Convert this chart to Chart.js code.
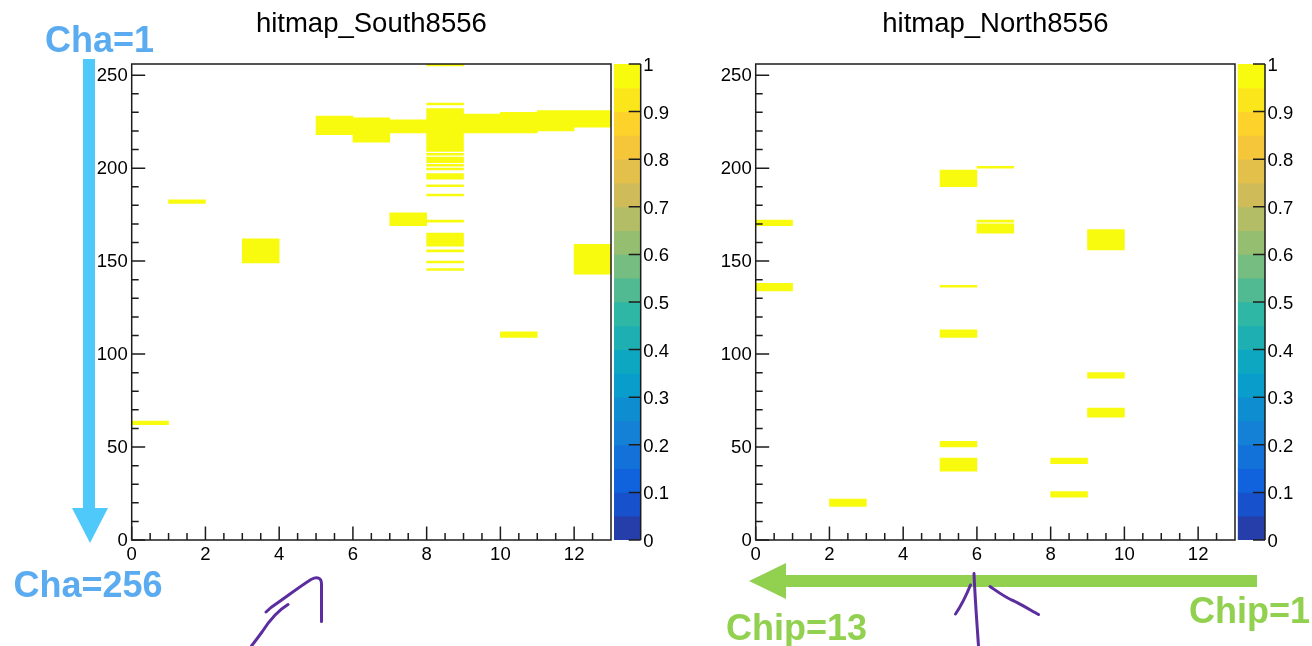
<!DOCTYPE html>
<html lang="en">
<head>
<meta charset="utf-8">
<title>hitmap 8556</title>
<script src="https://cdn.jsdelivr.net/npm/chart.js@4.4.1/dist/chart.umd.min.js"></script>
<style>
  html, body { margin: 0; padding: 0; background: #fff; }
  body { position: relative; width: 1312px; height: 646px; overflow: hidden; }
  canvas { position: absolute; top: 0; }
  svg.notes { position: absolute; left: 0; top: 0; pointer-events: none; }
</style>
</head>
<body>
<canvas id="southMap" width="656" height="646" style="left:0px"></canvas>
<canvas id="southPalette" width="100" height="646" style="left:600px"></canvas>
<canvas id="northMap" width="656" height="646" style="left:656px"></canvas>
<canvas id="northPalette" width="100" height="646" style="left:1225px"></canvas>

<svg class="notes" width="1312" height="646" viewBox="0 0 1312 646">
  <!-- channel direction (blue) -->
  <rect x="83" y="59" width="12" height="451" fill="#4fc8fa"/>
  <polygon points="72,508 108,508 90,543" fill="#4fc8fa"/>
  <!-- chip direction (green) -->
  <rect x="784" y="575" width="473" height="12" fill="#92d050"/>
  <polygon points="786,563 786,599 749,581" fill="#92d050"/>
  <g font-family="'Liberation Sans', Arial, sans-serif" font-weight="bold" font-size="36">
    <text x="45" y="51.5" fill="#5aabf0">Cha=1</text>
    <text x="13.5" y="596.5" fill="#5aabf0">Cha=256</text>
    <text x="726" y="639.5" fill="#92d050">Chip=13</text>
    <text x="1189" y="622.5" fill="#92d050">Chip=1</text>
  </g>
  <!-- pen marks -->
  <g fill="none" stroke="#5b2d9e" stroke-width="3" stroke-linecap="round" stroke-linejoin="round">
    <path d="M266 612 L271 607.5 C285 598 299 587 311 579.5 C317 576.5 321.5 577.5 321.5 584 L321.5 621.5"/>
    <path d="M288 604.5 C277 611 269 621 262 632 L251.5 646"/>
    <path d="M974 573.5 C975 598 977 624 978.5 646"/>
    <path d="M970.5 585 C966 596 961 606 955.5 614"/>
    <path d="M990 586.5 C998 592 1006 598 1014 601 C1024 606 1032 611 1038.5 614.5"/>
  </g>
</svg>

<script>
// ---- axes ----
const chipBins = ['0', '1', '2', '3', '4', '5', '6', '7', '8', '9', '10', '11', '12'];
const xTickValues = [0, 2, 4, 6, 8, 10, 12];
const yTickValues = [0, 50, 100, 150, 200, 250];
const zTickValues = [0, 0.1, 0.2, 0.3, 0.4, 0.5, 0.6, 0.7, 0.8, 0.9, 1];
const zTickLabels = ['0', '0.1', '0.2', '0.3', '0.4', '0.5', '0.6', '0.7', '0.8', '0.9', '1'];
// contour edges of the colour scale (20 levels)
const zLevels = [0, 0.05, 0.1, 0.15, 0.2, 0.25, 0.3, 0.35, 0.4, 0.45, 0.5,
                 0.55, 0.6, 0.65, 0.7, 0.75, 0.8, 0.85, 0.9, 0.95, 1];

// ---- South, run 8556: hit channel ranges per chip ----
const southChip = [0, 1, 3, 5, 6, 7, 7,
                   8, 8, 8, 8, 8, 8, 8, 8, 8, 8, 8, 8, 8, 8, 8,
                   9, 10, 10, 11, 12, 12];
const southFrom = [62, 181, 149, 218, 214, 219, 169,
                   255, 234, 209, 207, 203, 201, 199, 194, 190, 185, 171, 158, 155, 149, 145,
                   219, 219, 109, 220, 222, 143];
const southTo   = [64, 183, 162, 228, 227, 226, 176,
                   256, 235, 232, 208, 206, 202, 200, 197, 191, 186, 172, 165, 156, 150, 146,
                   229, 230, 112, 231, 231, 159];
const southHits = [1, 1, 1, 1, 1, 1, 1,
                   1, 1, 1, 1, 1, 1, 1, 1, 1, 1, 1, 1, 1, 1, 1,
                   1, 1, 1, 1, 1, 1];

// ---- North, run 8556 ----
const northChip = [0, 0, 2, 5, 5, 5, 5, 5, 6, 6, 6, 8, 8, 9, 9, 9];
const northFrom = [169, 134, 18, 190, 136, 109, 50, 37, 200, 171, 165, 41, 23, 156, 87, 66];
const northTo   = [172, 138, 22, 199, 137, 113, 53, 44, 201, 172, 170, 44, 26, 167, 90, 71];
const northHits = [1, 1, 1, 1, 1, 1, 1, 1, 1, 1, 1, 1, 1, 1, 1, 1];

// ---- "bird" colour palette ----
const birdStops = [0, 0.125, 0.25, 0.375, 0.5, 0.625, 0.75, 0.875, 1];
const birdR = [0.2082, 0.0592, 0.0780, 0.0232, 0.1802, 0.5301, 0.8186, 0.9956, 0.9764];
const birdG = [0.1664, 0.3599, 0.5041, 0.6419, 0.7178, 0.7492, 0.7328, 0.7862, 0.9832];
const birdB = [0.5293, 0.8684, 0.8385, 0.7914, 0.6425, 0.4662, 0.3499, 0.1968, 0.0539];

function birdColor(f) {
  f = Math.min(1, Math.max(0, f));
  let k = 0;
  while (k < birdStops.length - 2 && f > birdStops[k + 1]) k++;
  const t = (f - birdStops[k]) / (birdStops[k + 1] - birdStops[k]);
  const mix = a => Math.round(255 * (a[k] + (a[k + 1] - a[k]) * t));
  return `rgb(${mix(birdR)},${mix(birdG)},${mix(birdB)})`;
}
const nLevels = zLevels.length - 1;
const levelColors = zLevels.slice(0, -1).map((_, i) => birdColor((i + 0.99) / nLevels));
function zColor(v) {
  let i = 0;
  while (i < nLevels - 1 && v >= zLevels[i + 1]) i++;
  return levelColors[i];
}

Chart.defaults.font.family = "'Liberation Sans', Arial, Helvetica, sans-serif";
Chart.defaults.color = '#000';

const inkColor = '#1c1c1c';

// frame around the pad plus inward-pointing major/minor ticks
const frameAndTicks = {
  id: 'frameAndTicks',
  afterDatasetsDraw(chart, _args, opts) {
    const { ctx, chartArea: a, scales } = chart;
    ctx.save();
    ctx.strokeStyle = opts.color;
    ctx.lineWidth = opts.width;
    ctx.beginPath();
    const mark = (scale, step, horizontal) => {
      const majors = scale.ticks.map(t => t.value);
      const n = Math.floor((scale.max - scale.min) / step + 1e-6);
      for (let i = 0; i <= n; i++) {
        const v = scale.min + i * step;
        if (Math.abs(v - scale.max) < 1e-6) continue;
        const major = majors.some(m => Math.abs(m - v) < 1e-6);
        const len = major ? opts.majorLength : opts.minorLength;
        const p = scale.getPixelForValue(v);
        if (horizontal) { ctx.moveTo(p, a.bottom); ctx.lineTo(p, a.bottom - len); }
        else { ctx.moveTo(a.left, p); ctx.lineTo(a.left + len, p); }
      }
    };
    mark(scales.x, opts.xMinorStep, true);
    mark(scales.y, opts.yMinorStep, false);
    ctx.stroke();
    ctx.strokeRect(a.left, a.top, a.right - a.left, a.bottom - a.top);
    ctx.restore();
  }
};

// axis line and ticks on the right edge of the colour scale
const paletteAxis = {
  id: 'paletteAxis',
  afterDatasetsDraw(chart, _args, opts) {
    const { ctx, chartArea: a, scales } = chart;
    ctx.save();
    ctx.strokeStyle = opts.color;
    ctx.lineWidth = opts.width;
    ctx.beginPath();
    ctx.moveTo(a.right, a.top);
    ctx.lineTo(a.right, a.bottom);
    scales.y.ticks.forEach(t => {
      const p = scales.y.getPixelForValue(t.value);
      ctx.moveTo(a.right, p);
      ctx.lineTo(a.right - opts.tickLength, p);
    });
    ctx.stroke();
    ctx.restore();
  }
};

const tickFont = { size: 18.5 };

function hitmap(canvasId, title, chips, from, to, hits, pad) {
  return new Chart(document.getElementById(canvasId), {
    type: 'bar',
    data: {
      labels: chipBins,
      datasets: [{
        data: chips.map((c, i) => ({ x: chipBins[c], y: [from[i], to[i]] })),
        backgroundColor: hits.map(zColor),
        borderWidth: 0,
        barPercentage: 1,
        categoryPercentage: 1,
        xAxisID: 'bins',
        yAxisID: 'y'
      }]
    },
    options: {
      responsive: false,
      devicePixelRatio: 1,
      animation: false,
      events: [],
      layout: { padding: pad },
      plugins: {
        legend: { display: false },
        tooltip: { enabled: false },
        title: {
          display: true,
          text: title,
          fullSize: false,
          color: '#000',
          font: { size: 27.5, weight: 'normal', lineHeight: 1.2 },
          padding: { top: 7.5, bottom: 23.5 }
        },
        frameAndTicks: {
          color: inkColor, width: 1.5,
          majorLength: 13.5, minorLength: 7,
          xMinorStep: 0.5, yMinorStep: 10
        }
      },
      scales: {
        bins: {
          type: 'category', axis: 'x', position: 'bottom',
          display: false, offset: true, labels: chipBins
        },
        x: {
          type: 'linear', axis: 'x', position: 'bottom',
          min: 0, max: 13, offset: false,
          afterBuildTicks: s => { s.ticks = xTickValues.map(v => ({ value: v })); },
          grid: { display: false, drawTicks: false },
          border: { display: false },
          ticks: { autoSkip: false, maxRotation: 0, padding: 3.5, color: '#000', font: tickFont,
                   callback: v => String(v) },
          afterFit: s => { s.height = 30; }
        },
        y: {
          type: 'linear', position: 'left',
          min: 0, max: 256,
          afterBuildTicks: s => { s.ticks = yTickValues.map(v => ({ value: v })); },
          grid: { display: false, drawTicks: false },
          border: { display: false },
          ticks: { autoSkip: false, padding: 4, labelOffset: 1, color: '#000', font: tickFont,
                   callback: v => String(v) },
          afterFit: s => { s.width = 50; }
        }
      }
    },
    plugins: [frameAndTicks]
  });
}

function colourScale(canvasId, axisWidth, pad) {
  return new Chart(document.getElementById(canvasId), {
    type: 'bar',
    data: {
      labels: ['z'],
      datasets: [{
        data: levelColors.map((_, i) => ({ x: 'z', y: [zLevels[i], zLevels[i + 1]] })),
        backgroundColor: levelColors,
        borderWidth: 0,
        barPercentage: 1,
        categoryPercentage: 1
      }]
    },
    options: {
      responsive: false,
      devicePixelRatio: 1,
      animation: false,
      events: [],
      layout: { padding: pad },
      plugins: {
        legend: { display: false },
        tooltip: { enabled: false },
        paletteAxis: { color: inkColor, width: 1.5, tickLength: 12 }
      },
      scales: {
        x: { type: 'category', display: false, offset: true },
        y: {
          type: 'linear', position: 'right',
          min: 0, max: 1,
          afterBuildTicks: s => { s.ticks = zTickValues.map(v => ({ value: v })); },
          grid: { display: false, drawTicks: false },
          border: { display: false },
          ticks: { autoSkip: false, padding: 2.5, labelOffset: 2, color: '#000', font: tickFont,
                   callback: (v, i) => zTickLabels[i] },
          afterFit: s => { s.width = axisWidth; }
        }
      }
    },
    plugins: [paletteAxis]
  });
}

hitmap('southMap', 'hitmap_South8556', southChip, southFrom, southTo, southHits,
       { left: 81.7, right: 45, top: 0, bottom: 76 });
hitmap('northMap', 'hitmap_North8556', northChip, northFrom, northTo, northHits,
       { left: 49.7, right: 77, top: 0, bottom: 76 });
colourScale('southPalette', 59.3, { left: 14, right: 0, top: 64, bottom: 106 });
colourScale('northPalette', 60, { left: 12.7, right: 0, top: 64, bottom: 106 });
</script>
</body>
</html>
